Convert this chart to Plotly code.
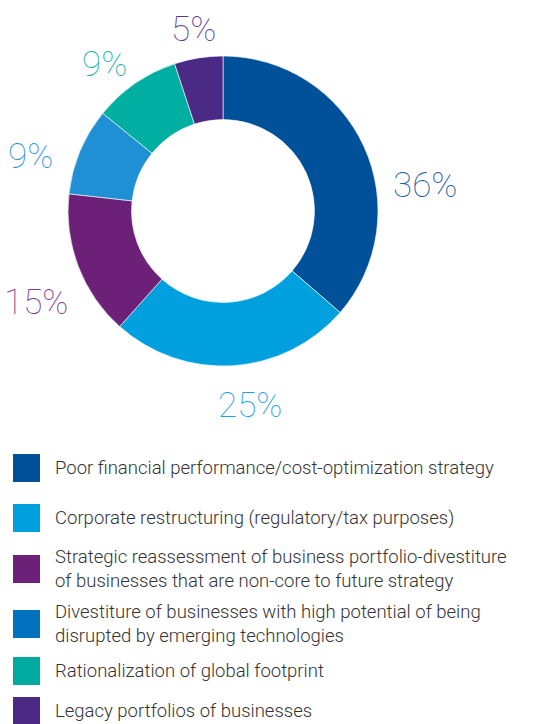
import plotly.graph_objects as go

categories = [
    "Poor financial performance/cost-optimization strategy",
    "Corporate restructuring (regulatory/tax purposes)",
    "Strategic reassessment of business portfolio-divestiture<br>of businesses that are non-core to future strategy",
    "Divestiture of businesses with high potential of being<br>disrupted by emerging technologies",
    "Rationalization of global footprint",
    "Legacy portfolios of businesses",
]
values = [36, 25, 15, 9, 9, 5]
value_labels = ["36%", "25%", "15%", "9%", "9%", "5%"]

slice_colors = ["#00509A", "#00A0DE", "#6D2077", "#1F8FD6", "#00AEA2", "#4A2A85"]
legend_colors = ["#00509A", "#00A0DE", "#6D2077", "#0071BE", "#00AAA0", "#4A2A85"]
label_colors = ["#1A56A0", "#1EA3E0", "#7B3A8C", "#2F93D8", "#1BB2A7", "#5B3C93"]

W, H = 558, 724
cx, cy, R = 223, 211, 155

fig = go.Figure()
fig.add_trace(go.Pie(
    values=values,
    labels=[c.replace("<br>", " ") for c in categories],
    sort=False,
    direction="clockwise",
    rotation=0,
    hole=0.59,
    marker=dict(colors=slice_colors, line=dict(color="white", width=0.6)),
    textinfo="none",
    hoverinfo="label+percent",
    showlegend=False,
    domain=dict(x=[(cx - R) / W, (cx + R) / W], y=[(H - cy - R) / H, (H - cy + R) / H]),
))

# value label pixel positions (centre of text)
label_pos = [(425, 186), (250, 405), (36, 303), (30, 156), (104, 65), (193, 30)]
for txt, (px, py), col in zip(value_labels, label_pos, label_colors):
    fig.add_annotation(
        x=px / W, y=1 - py / H, xref="paper", yref="paper",
        text=txt, showarrow=False, xanchor="center", yanchor="middle",
        font=dict(family="Roboto", size=35, color=col, weight=100),
    )

# legend
legend_y = [468, 518, 569, 624, 671, 711]
for cat, col, ly in zip(categories, legend_colors, legend_y):
    fig.add_shape(
        type="rect", xref="paper", yref="paper",
        x0=13 / W, x1=40 / W, y0=1 - (ly - 14) / H, y1=1 - (ly + 14) / H,
        fillcolor=col, line=dict(width=0),
    )
    fig.add_annotation(
        x=53 / W, y=1 - ly / H, xref="paper", yref="paper",
        text=cat, showarrow=False, xanchor="left", yanchor="middle", align="left",
        font=dict(family="Roboto", size=18.5, color="#333333", weight=300),
    )

fig.update_layout(
    width=W, height=H,
    margin=dict(l=0, r=0, t=0, b=0),
    paper_bgcolor="white",
    plot_bgcolor="white",
)

fig.write_html(
    "out.html",
    config=dict(displayModeBar=False),
    post_script="document.body.style.margin='0';document.body.style.overflow='hidden';",
)
